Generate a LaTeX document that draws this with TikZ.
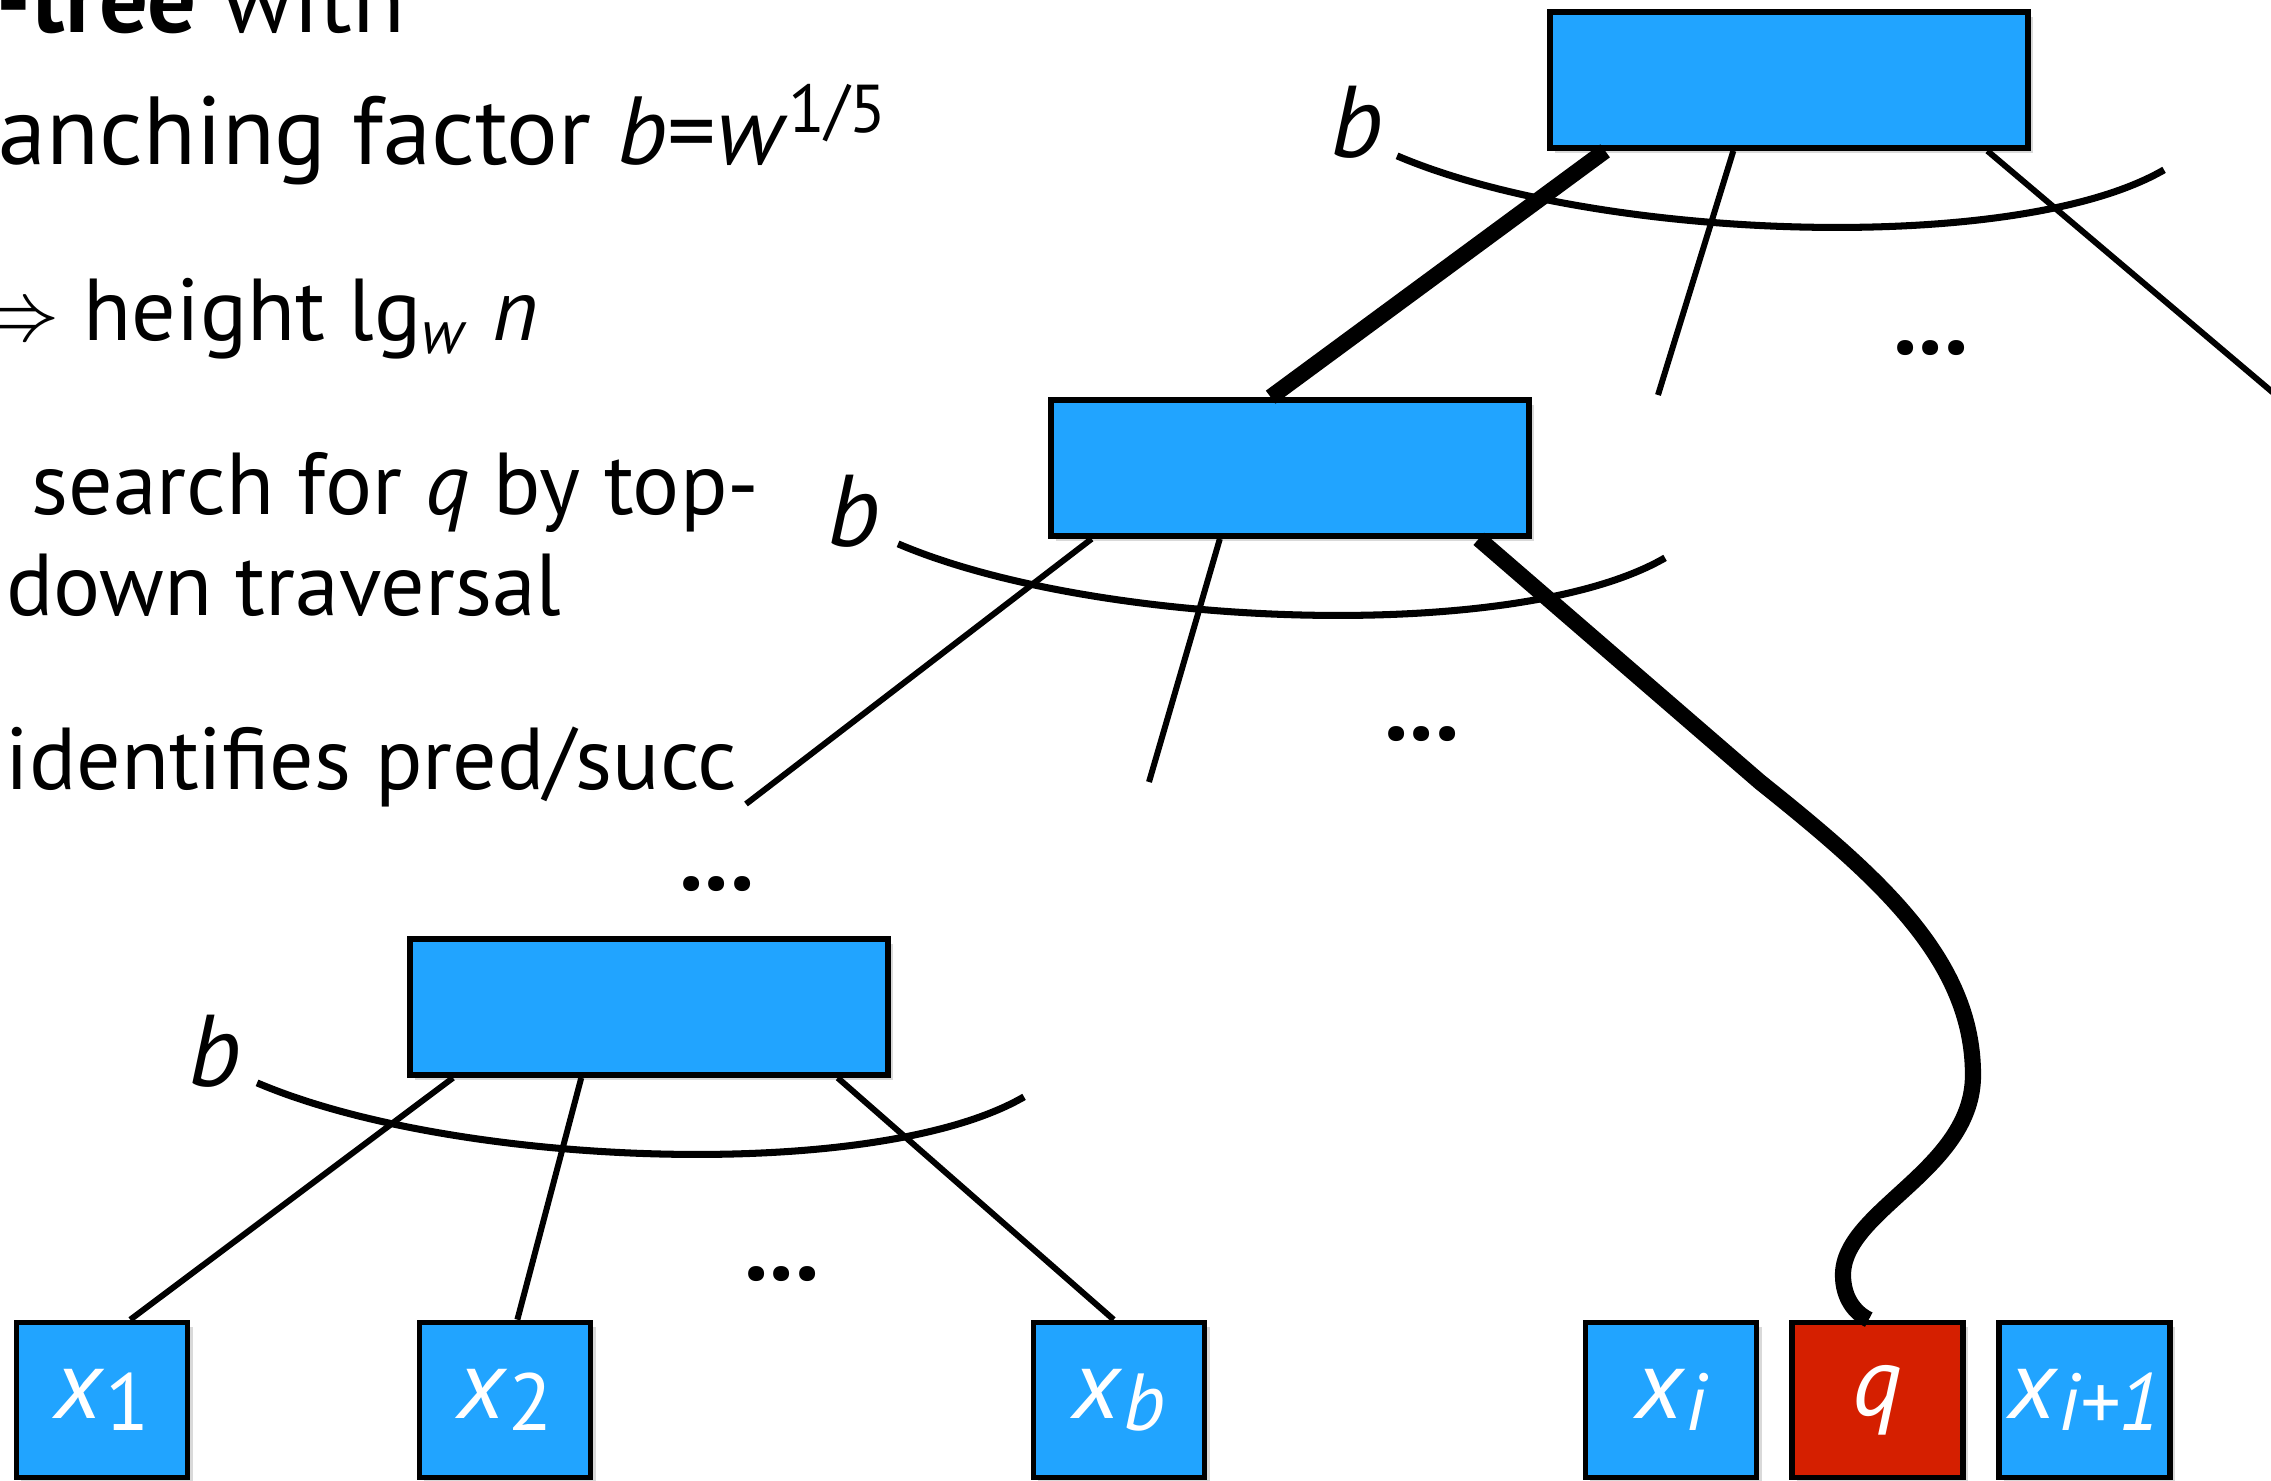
\documentclass[tikz,border=0pt]{standalone}
\usepackage{fontspec}
\setmainfont{PT Sans}
\usetikzlibrary{calc,positioning,shadows}

\definecolor{keyblue}{RGB}{33,164,255}
\definecolor{hitred}{RGB}{213,31,0}

% index written next to a key
\newcommand{\leafsub}[1]{\lower0.12em\hbox{\fontsize{23}{23}\selectfont #1}}

\tikzset{
  keybox/.style={draw=black, line width=1.6pt, fill=keyblue, inner sep=0pt,
    minimum width=4.78cm, minimum height=1.36cm,
    drop shadow={shadow xshift=0.05cm, shadow yshift=-0.05cm, opacity=0.3}},
  leafbox/.style={keybox, minimum width=1.71cm, minimum height=1.55cm,
    text=white, font=\fontsize{28}{28}\selectfont},
  edge/.style={line width=1.7pt},
  searchedge/.style={line width=4.6pt},
  fanline/.style={line width=2pt},
  blab/.style={font=\fontsize{29}{29}\selectfont\itshape},
  dots/.style={font=\fontsize{28}{28}\selectfont\bfseries},
  txt/.style={anchor=base east, inner sep=0pt, font=\fontsize{25}{29}\selectfont},
  bigtxt/.style={anchor=base west, inner sep=0pt, font=\fontsize{27.5}{30}\selectfont},
  fan/.pic={\draw[fanline] (-150,5) .. controls (49,90) and (469,105) .. (617,19);}
}

\begin{document}
\begin{tikzpicture}[x=0.01cm, y=-0.01cm]
    \useasboundingbox (0,0) rectangle (2271,1481);

    % Text on the left
    \node[bigtxt] (t1) at (-4,32) {\textbf{-tree} with};
    \node[bigtxt] (t2) at (-2,164) {anching factor \textit{b}=\textit{w}\textsuperscript{1/5}};
    \node[txt] (t3) at (539,340) {$\Rightarrow$ height lg\textsubscript{\textit{w}} \textit{n}};
    \node[txt] (t4) at (760,514) {search for \textit{q} by top-};
    \node[txt] (t5) at (562,615) {down traversal};
    \node[txt] (t6) at (738,789) {identifies pred/succ};

    % Inner nodes
    \node[keybox] (root) at (1789,80) {};
    \node[keybox] (mid) at (1290,468) {};
    \node[keybox] (low) at (649,1007) {};

    % Leaves
    \node[leafbox] (x1) at (102,1400) {\textit{x}\leafsub{1}};
    \node[leafbox] (x2) at (505,1400) {\textit{x}\leafsub{2}};
    \node[leafbox] (xb) at (1119,1400) {\textit{x}\leafsub{\itshape b}};
    \node[leafbox] (xi) at (1671,1400) {\textit{x}\leafsub{\itshape i}};
    \node[leafbox, fill=hitred, right=0.3cm of xi] (q) {\textit{q}};
    \node[leafbox, right=0.3cm of q] (xi1) {\textit{x}\leafsub{\itshape i+1}};

    % Fan-out arcs and their labels
    \pic at (root.south west) {fan};
    \pic at (mid.south west) {fan};
    \pic at (low.south west) {fan};
    \node[blab] (broot) at ([shift={(-190,-29)}]root.south west) {b};
    \node[blab] (bmid) at ([shift={(-194,-28)}]mid.south west) {b};
    \node[blab] (blow) at ([shift={(-192,-27)}]low.south west) {b};

    % Loose ends of child pointers
    \coordinate (rc2) at (1658,395);
    \coordinate (rc3) at (2290,407);
    \coordinate (mc1) at (746,804);
    \coordinate (mc2) at (1149,782);
    \coordinate (bend) at (1760,782);

    % Children of the root
    \draw[searchedge] ($(root.south west)!0.12!(root.south east)$) -- ($(mid.north west)!0.46!(mid.north east)$);
    \draw[edge] ($(root.south west)!0.385!(root.south east)$) -- (rc2);
    \draw[edge] ($(root.south west)!0.91!(root.south east)$) -- (rc3);

    % Children of the middle node, search path down to q
    \draw[edge] ($(mid.south west)!0.09!(mid.south east)$) -- (mc1);
    \draw[edge] ($(mid.south west)!0.355!(mid.south east)$) -- (mc2);
    \draw[searchedge] ($(mid.south west)!0.89!(mid.south east)$) -- (bend)
        .. controls (1880,878) and (1973,960) .. (1973,1075)
        .. controls (1973,1170) and (1843,1210) .. (1843,1275)
        .. controls (1843,1298) and (1855,1313) .. ([xshift=-0.09cm]q.north);

    % Children of the lowest node
    \draw[edge] ($(low.south west)!0.095!(low.south east)$) -- ($(x1.north west)!0.66!(x1.north east)$);
    \draw[edge] ($(low.south west)!0.36!(low.south east)$) -- ($(x2.north west)!0.57!(x2.north east)$);
    \draw[edge] ($(low.south west)!0.89!(low.south east)$) -- ($(xb.north west)!0.47!(xb.north east)$);

    % Elided children
    \node[dots] (droot) at (1931,348) {...};
    \node[dots] (dmid) at (1422,734) {...};
    \node[dots] (dlevel) at (717,884) {...};
    \node[dots] (dlow) at (782,1274) {...};
\end{tikzpicture}
\end{document}
